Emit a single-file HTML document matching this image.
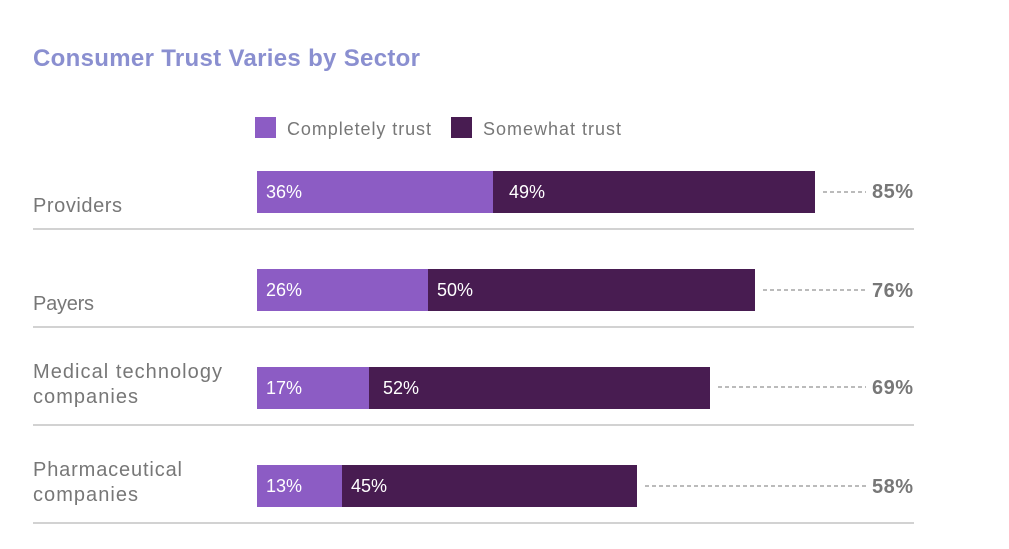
<!DOCTYPE html>
<html><head><meta charset="utf-8"><style>body{margin:0;background:#fff}svg{display:block}</style></head><body>
<svg width="1009" height="549" xmlns="http://www.w3.org/2000/svg" font-family="Liberation Sans, sans-serif">
<text x="33" y="66" font-size="24" font-weight="bold" fill="#8a8fd0" textLength="387" lengthAdjust="spacing">Consumer Trust Varies by Sector</text>
<rect x="255" y="117" width="21" height="21" fill="#8c5cc4"/>
<text x="287" y="135" font-size="18" fill="#777" textLength="144" lengthAdjust="spacing">Completely trust</text>
<rect x="451" y="117" width="21" height="21" fill="#481c51"/>
<text x="483" y="135" font-size="18" fill="#777" textLength="138" lengthAdjust="spacing">Somewhat trust</text>
<g fill="#777" font-size="20" lengthAdjust="spacing">
<text x="33" y="212" textLength="89">Providers</text>
<text x="33" y="310" textLength="61">Payers</text>
<text x="33" y="378" textLength="189">Medical technology</text><text x="33" y="403" textLength="105">companies</text>
<text x="33" y="476" textLength="149">Pharmaceutical</text><text x="33" y="501" textLength="105">companies</text>
</g>
<g stroke="#c4c4c4" stroke-width="1.5">
<line x1="33" y1="229" x2="914" y2="229"/><line x1="33" y1="327" x2="914" y2="327"/>
<line x1="33" y1="425" x2="914" y2="425"/><line x1="33" y1="523" x2="914" y2="523"/>
</g>
<g>
<rect x="257" y="171" width="236" height="42" fill="#8c5cc4"/><rect x="493" y="171" width="322" height="42" fill="#481c51"/>
<rect x="257" y="269" width="171" height="42" fill="#8c5cc4"/><rect x="428" y="269" width="327" height="42" fill="#481c51"/>
<rect x="257" y="367" width="112" height="42" fill="#8c5cc4"/><rect x="369" y="367" width="341" height="42" fill="#481c51"/>
<rect x="257" y="465" width="85" height="42" fill="#8c5cc4"/><rect x="342" y="465" width="295" height="42" fill="#481c51"/>
</g>
<g fill="#fff" font-size="18">
<text x="266" y="198">36%</text><text x="509" y="198">49%</text>
<text x="266" y="296">26%</text><text x="437" y="296">50%</text>
<text x="266" y="394">17%</text><text x="383" y="394">52%</text>
<text x="266" y="492">13%</text><text x="351" y="492">45%</text>
</g>
<g stroke="#777" stroke-width="1" stroke-dasharray="4,3">
<line x1="823" y1="192" x2="866" y2="192"/>
<line x1="763" y1="290" x2="866" y2="290"/>
<line x1="718" y1="387" x2="866" y2="387"/>
<line x1="645" y1="486" x2="866" y2="486"/>
</g>
<g fill="#777" font-size="20" font-weight="bold">
<text x="872" y="198" textLength="41">85%</text><text x="872" y="297" textLength="41">76%</text>
<text x="872" y="394" textLength="41">69%</text><text x="872" y="493" textLength="41">58%</text>
</g>
</svg>
</body></html>
